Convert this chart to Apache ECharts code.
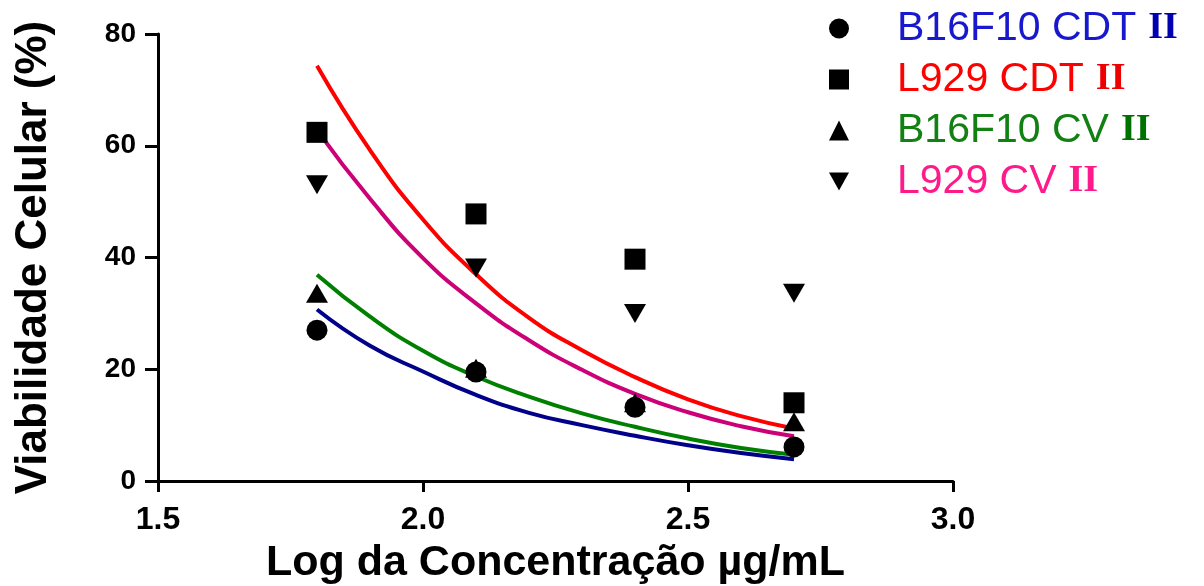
<!DOCTYPE html>
<html><head><meta charset="utf-8">
<script src="https://cdn.jsdelivr.net/npm/echarts@6/dist/echarts.min.js"></script>
<style>html,body{margin:0;padding:0;background:#fff}#c{width:1204px;height:586px}</style>
</head><body><div id="c"></div>
<script>
// Measured points
const xPoints = [1.8, 2.1, 2.4, 2.7];
const b16CDT = [27.0, 19.5, 13.2, 6.1];
const l929CDT = [62.4, 47.8, 39.7, 14.0];
const b16CV = [33.6, 20.2, 14.0, 10.6];
const l929CV = [53.0, 38.1, 30.0, 33.6];
// Fitted curves
const xFit = [1.8, 1.9, 2.0, 2.1, 2.2, 2.3, 2.4, 2.5, 2.6, 2.7];
const fitB16CDT = [30.7, 24.2, 19.6, 15.4, 12.2, 10.0, 8.1, 6.4, 5.0, 3.9];
const fitL929CDT = [74.3, 59.2, 46.8, 37.0, 29.2, 23.4, 18.6, 14.6, 11.6, 9.4];
const fitB16CV = [36.9, 29.4, 23.3, 18.7, 15.1, 12.1, 9.7, 7.6, 5.9, 4.7];
const fitL929CV = [62.8, 50.5, 39.9, 31.8, 25.2, 19.9, 15.6, 12.3, 9.8, 8.0];
const yTicks = [0, 20, 40, 60, 80];
const xTicks = [1.5, 2.0, 2.5, 3.0];
const names = ['B16F10 CDT', 'L929 CDT', 'B16F10 CV', 'L929 CV'];

const pair = (xs, ys) => xs.map((x, i) => [x, ys[i]]);
const textColors = ['#1818cc', '#ff0000', '#128012', '#ff1a8c'];
const iiColors = ['#0000b0', '#ee0000', '#007000', '#ff1a8c'];
const lineColors = ['#000088', '#ff0000', '#008000', '#cc0077'];
const symbols = ['circle', 'rect', 'triangle', 'path://M0,0 L10,0 L5,9 Z'];
const symSizes = [[21,21],[21,21],[22,19],[22,19]];
const scatterData = [b16CDT, l929CDT, b16CV, l929CV];
const fitData = [fitB16CDT, fitL929CDT, fitB16CV, fitL929CV];
const FONT = 'Arial, "Liberation Sans", sans-serif';

const series = [];
fitData.forEach((d, i) => {
  series.push({
    name: 'fit' + i, type: 'line', data: pair(xFit, d), smooth: true,
    showSymbol: false, symbol: 'none', lineStyle: {color: lineColors[i], width: 4},
    itemStyle: {color: lineColors[i]}, z: 2, silent: true
  });
});
scatterData.forEach((d, i) => {
  series.push({
    name: names[i], type: 'scatter', data: pair(xPoints, d),
    symbol: symbols[i], symbolSize: symSizes[i],
    itemStyle: {color: '#000', opacity: 1}, z: 3
  });
});

const chart = echarts.init(document.getElementById('c'));
chart.setOption({
  animation: false,
  backgroundColor: '#fff',
  grid: {left: 158, right: 251, top: 34, bottom: 105, containLabel: false, outerBoundsMode: 'none'},
  legend: {
    orient: 'vertical', left: 824, top: 3, itemGap: 10,
    itemWidth: 20, itemHeight: 20,
    data: names.map((n, i) => ({
      name: n,
      icon: symbols[i],
      itemStyle: {color: '#000', opacity: 1},
      textStyle: {
        color: textColors[i],
        rich: {
          sp: {width: 43},
          t: {fontFamily: FONT, fontSize: 41, lineHeight: 41, color: textColors[i]},
          g: {width: 12},
          ii: {fontFamily: '"Liberation Serif", "Times New Roman", serif', fontSize: 38, lineHeight: 41, fontWeight: 'bold', color: iiColors[i]}
        }
      }
    })),
    formatter: n => '{sp|}{t|' + n + '}{g|}{ii|II}',
    selectedMode: false
  },
  xAxis: {
    type: 'value', min: 1.5, max: 3.0, interval: 0.5,
    splitLine: {show: false},
    axisLine: {onZero: false, lineStyle: {color: '#000', width: 3}},
    axisTick: {length: 11, lineStyle: {color: '#000', width: 3}},
    axisLabel: {color: '#000', fontSize: 32, fontWeight: 'bold', fontFamily: FONT, margin: 23,
      formatter: v => xTicks.includes(v) ? v.toFixed(1) : ''},
    name: 'Log da Concentração µg/mL', nameLocation: 'middle', nameGap: 61,
    nameTextStyle: {color: '#000', fontSize: 43, fontWeight: 'bold', fontFamily: FONT}
  },
  yAxis: {
    type: 'value', min: 0, max: 80, interval: 20,
    splitLine: {show: false},
    axisLine: {onZero: false, lineStyle: {color: '#000', width: 3}},
    axisTick: {length: 13, lineStyle: {color: '#000', width: 3}},
    axisLabel: {color: '#000', fontSize: 28, fontWeight: 'bold', fontFamily: FONT, margin: 22,
      formatter: v => yTicks.includes(v) ? String(v) : ''},
    name: 'Viabilidade Celular (%)', nameLocation: 'middle', nameGap: 102, nameRotate: 90,
    nameTextStyle: {color: '#000', fontSize: 44, fontWeight: 'bold', fontFamily: FONT}
  },
  series: series
});
</script></body></html>
